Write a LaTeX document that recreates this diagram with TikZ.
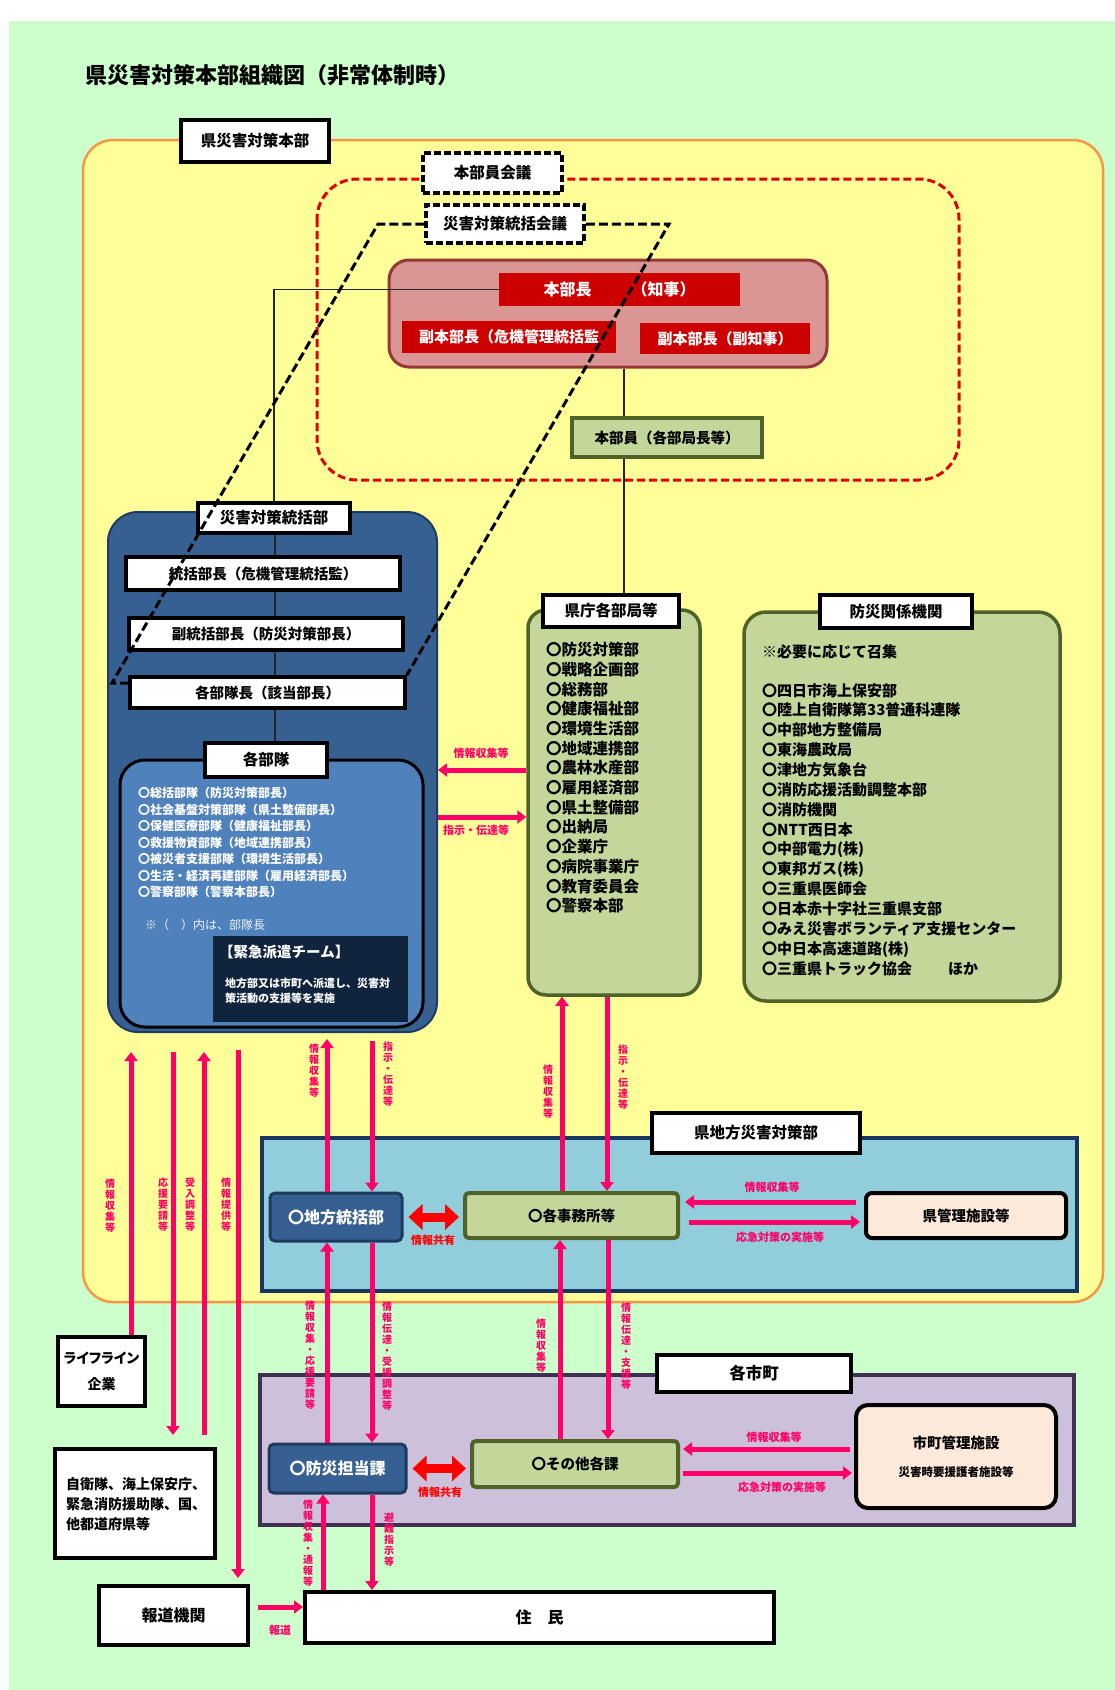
\documentclass[tikz,border=0pt]{standalone}
\usepackage{fontspec}
\setmainfont{Noto Sans CJK JP}
\usetikzlibrary{arrows.meta,calc}
\makeatletter
\newcommand\tate[1]{\vbox{\baselineskip=1.1em\lineskiplimit=-\maxdimen\lineskip=0pt\@tfor\tt@ch:=#1\do{\hbox to 1em{\hss\tt@ch\hss}}}}
\makeatother
\newcommand\fsz[2]{\fontsize{#1}{#2}\selectfont}
\definecolor{bg}{HTML}{CCFFCC}
\definecolor{yel}{HTML}{FFFF99}
\definecolor{orn}{HTML}{F79646}
\definecolor{rdash}{HTML}{E00000}
\definecolor{pinkf}{HTML}{D99694}
\definecolor{pinkd}{HTML}{953735}
\definecolor{redr}{HTML}{CC0000}
\definecolor{dblue}{HTML}{376092}
\definecolor{dblued}{HTML}{1F3A60}
\definecolor{lblue}{HTML}{4F81BD}
\definecolor{navy}{HTML}{10243E}
\definecolor{gfill}{HTML}{C4D79B}
\definecolor{gdraw}{HTML}{4F6228}
\definecolor{cyanf}{HTML}{92CDDC}
\definecolor{cyand}{HTML}{17375E}
\definecolor{purf}{HTML}{CCC0DA}
\definecolor{purd}{HTML}{3F3151}
\definecolor{peach}{HTML}{FDE9D9}
\definecolor{pk}{HTML}{FF0066}
\definecolor{rd}{HTML}{FF0000}
\begin{document}
\begin{tikzpicture}[x=1pt,y=-1pt,
  every node/.style={inner sep=0pt},
  sz/.style 2 args={minimum width=#1pt, minimum height=#2pt},
  lbl/.style={fill=white, draw=black, line width=3.5pt, font=\fsz{15.5}{18}\bfseries},
  lbl2/.style={lbl, font=\fsz{14.5}{17}\bfseries},
  dlbl/.style={lbl, dash pattern=on 7pt off 3pt},
  redbox/.style={fill=redr, text=white, font=\fsz{15}{18}\bfseries},
  bluebox/.style={fill=dblue, draw=dblued, line width=3pt, rounded corners=5pt, text=white, font=\fsz{16}{19}\bfseries},
  gbox/.style={fill=gfill, draw=gdraw, line width=4pt},
  pbox/.style={fill=peach, draw=black, line width=4pt, rounded corners=6pt, font=\fsz{14.5}{17}\bfseries},
  pa/.style={draw=pk, line width=5pt, -{Triangle[length=9pt,width=13pt]}},
  da/.style={draw=rd, line width=9pt, {Triangle[length=14pt,width=25pt]}-{Triangle[length=14pt,width=25pt]}, shorten <=5pt, shorten >=4pt},
  pl/.style={text=pk, font=\fsz{11}{13}\bfseries},
  vl/.style={text=pk, font=\fsz{10}{11}\bfseries},
  conn/.style={draw=black!85, line width=1.5pt},
  pdash/.style={draw=black, line width=3pt, dash pattern=on 9pt off 4pt}
]
\fill[white] (0,0) rectangle (1115,1690);
\useasboundingbox (0,0) rectangle (1115,1690);
\fill[bg] (9,21) rectangle (1115,1690);

\node[anchor=west, font=\fsz{22}{25}\bfseries] (title) at (85,75) {県災害対策本部組織図（非常体制時）};

% outer yellow
\node[fill=yel, draw=orn, line width=2.5pt, rounded corners=30pt, sz={1020}{1162}] (outer) at (593,721) {};
\node[lbl, sz={148}{42}] (hq) at (255,141) {県災害対策本部};

% red dashed
\draw[rdash, line width=3pt, dash pattern=on 8pt off 4pt, rounded corners=40pt] (317,179) rectangle (959,480);
\node[dlbl, sz={139}{40}] (kaigi) at (492.5,173) {本部員会議};
\node[dlbl, sz={158}{38}] (togi) at (505,224) {災害対策統括会議};

% honbu
\node[fill=pinkf, draw=pinkd, line width=3pt, rounded corners=20pt, sz={438}{107}] (honbu) at (608,313.5) {};
\node[redbox, font=\fsz{16}{19}\bfseries, sz={241}{33}] (chiji) at (619.5,289.5) {本部長\hspace{40pt}（知事）};
\node[redbox, sz={214}{32}] (fuku1) at (509,337) {副本部長（危機管理統括監};
\node[redbox, sz={170}{31}] (fuku2) at (725,338.5) {副本部長（副知事）};
\node[gbox, font=\fsz{14.5}{17}\bfseries, sz={190}{39}] (honbuin) at (667,437.5) {本部員（各部局長等）};

% sobu
\node[fill=dblue, draw=dblued, line width=2pt, rounded corners=30pt, sz={329}{520}] (sobu) at (272.5,772) {};
\node[fill=lblue, draw=black, line width=3pt, rounded corners=25pt, sz={303}{267}] (butaiin) at (271.5,893.5) {};
\node[lbl, sz={152}{30}] (sotokatsu) at (274,518) {災害対策統括部};
\node[lbl2, sz={274}{33}] (bucho) at (263,573.5) {統括部長（危機管理統括監）};
\node[lbl2, sz={274}{32}] (fbucho) at (266,634) {副統括部長（防災対策部長）};
\node[lbl2, sz={275}{31}] (kbc) at (267.5,692.5) {各部隊長（該当部長）};
\node[lbl, sz={122}{34}] (butai) at (266,760) {各部隊};
\node[anchor=north west, align=left, text=white, font=\fsz{12}{16.5}\bfseries] (butailist) at (138,787) {〇総括部隊（防災対策部長）\\〇社会基盤対策部隊（県土整備部長）\\〇保健医療部隊（健康福祉部長）\\〇救援物資部隊（地域連携部長）\\〇被災者支援部隊（環境生活部長）\\〇生活・経済再建部隊（雇用経済部長）\\〇警察部隊（警察本部長）};
\node[anchor=west, text=white!90!lblue, font=\fsz{12}{14}] (note) at (145,925) {※（　）内は、部隊長};
\node[fill=navy, sz={195}{86}] (kinkyu) at (310.5,979) {};
\node[anchor=west, text=white, font=\fsz{14.5}{17}\bfseries] (kt) at (219,952) {【緊急派遣チーム】};
\node[anchor=north west, align=left, text=white, font=\fsz{11}{15}\bfseries] (kb) at (225,978) {地方部又は市町へ派遣し、災害対\\策活動の支援等を実施};

% connectors in the chain
\coordinate (xa) at (624,0);
\coordinate (xb) at (275,0);
\draw[conn] (honbu.south -| xa) -- (honbuin.north -| xa);
\draw[conn] (chiji.west) -- (chiji.west -| sotokatsu.north) -- (sotokatsu.north);
\draw[conn] (sotokatsu.south -| xb) -- (bucho.north -| xb);
\draw[conn] (bucho.south -| xb) -- (fbucho.north -| xb);
\draw[conn] (fbucho.south -| xb) -- (kbc.north -| xb);
\draw[conn] (kbc.south -| xb) -- (butai.north -| xb);

% kencho
\node[gbox, line width=3.5pt, rounded corners=18pt, sz={172}{385}] (kencho) at (614,802.5) {};
\node[lbl, sz={136}{32}] (kencholbl) at (611,611) {県庁各部局等};
\draw[conn] (honbuin.south -| xa) -- (kencholbl.north -| xa);
\node[anchor=north west, align=left, font=\fsz{15.5}{19.7}\bfseries] (kenlist) at (546,642) {〇防災対策部\\〇戦略企画部\\〇総務部\\〇健康福祉部\\〇環境生活部\\〇地域連携部\\〇農林水産部\\〇雇用経済部\\〇県土整備部\\〇出納局\\〇企業庁\\〇病院事業庁\\〇教育委員会\\〇警察本部};

% kankei
\node[gbox, line width=3.5pt, rounded corners=22pt, sz={316}{389}] (kankei) at (902,806.5) {};
\node[lbl, sz={152}{33}] (kankeilbl) at (896,611.5) {防災関係機関};
\node[anchor=west, font=\fsz{15}{18}\bfseries] (shoshu) at (762,652) {※必要に応じて召集};
\node[anchor=north west, align=left, font=\fsz{15}{19.86}\bfseries] (kanlist) at (762,683) {〇四日市海上保安部\\〇陸上自衛隊第33普通科連隊\\〇中部地方整備局\\〇東海農政局\\〇津地方気象台\\〇消防応援活動調整本部\\〇消防機関\\〇NTT西日本\\〇中部電力(株)\\〇東邦ガス(株)\\〇三重県医師会\\〇日本赤十字社三重県支部\\〇みえ災害ボランティア支援センター\\〇中日本高速道路(株)\\〇三重県トラック協会\hspace{36pt}ほか};

% arrows butai <-> kencho
\coordinate (a1) at ($(sobu.east)+(0,-2)$);
\coordinate (a2) at ($(sobu.east)+(0,45)$);
\draw[pa] (kencho.west |- a1) -- (a1);
\draw[pa] (a2) -- (kencho.west |- a2);
\node[pl] (l1) at (481,753) {情報収集等};
\node[pl] (l2) at (476,830) {指示・伝達等};

% chiho region
\node[fill=cyanf, draw=cyand, line width=4pt, sz={815}{153}] (chihoreg) at (669.5,1214.5) {};
\node[lbl, sz={208}{40}] (chiholbl) at (756,1133) {県地方災害対策部};
\node[bluebox, sz={132}{48}] (chiho) at (336,1217) {〇地方統括部};
\node[gbox, rounded corners=4pt, font=\fsz{14.5}{17}\bfseries, sz={213}{45}] (jimusho) at (571.5,1215.5) {〇各事務所等};
\node[pbox, sz={200}{45}] (kanri) at (966,1215.5) {県管理施設等};
\draw[da] (chiho.east) -- (jimusho.west |- chiho.east);
\node[text=rd, font=\fsz{11}{13}\bfseries] (kyoyu1) at (433,1240) {情報共有};
\coordinate (y1) at (0,1202);
\coordinate (y2) at (0,1222);
\draw[pa, shorten <=8pt, shorten >=5pt] (kanri.west |- y1) -- (jimusho.east |- y1);
\draw[pa, shorten <=9pt, shorten >=4pt] (jimusho.east |- y2) -- (kanri.west |- y2);
\node[pl] (l3) at (772,1187) {情報収集等};
\node[pl] (l4) at (780,1237) {応急対策の実施等};

% shicho region
\node[fill=purf, draw=purd, line width=4pt, sz={814}{150}] (shichoreg) at (667,1450) {};
\node[lbl, font=\fsz{16.5}{19}\bfseries, sz={194}{37}] (shicholbl) at (754,1373.5) {各市町};
\node[bluebox, sz={137}{49}] (bousai) at (337.5,1468.5) {〇防災担当課};
\node[gbox, rounded corners=4pt, font=\fsz{14.5}{17}\bfseries, sz={206}{46}] (sonota) at (575,1464) {〇その他各課};
\node[pbox, rounded corners=12pt, sz={200}{103}] (shisetsu) at (956,1456.5) {};
\node[font=\fsz{14.5}{17}\bfseries] (st1) at (956,1443) {市町管理施設};
\node[font=\fsz{11.5}{14}\bfseries] (st2) at (956,1472) {災害時要援護者施設等};
\draw[da] (bousai.east) -- (sonota.west |- bousai.east);
\node[text=rd, font=\fsz{11}{13}\bfseries] (kyoyu2) at (440,1492) {情報共有};
\coordinate (y3) at (0,1449);
\coordinate (y4) at (0,1473);
\draw[pa, shorten <=4pt, shorten >=3pt] (shisetsu.west |- y3) -- (sonota.east |- y3);
\draw[pa, shorten <=3pt, shorten >=2pt] (sonota.east |- y4) -- (shisetsu.west |- y4);
\node[pl] (l5) at (774,1437) {情報収集等};
\node[pl] (l6) at (782,1487) {応急対策の実施等};

% bottom boxes
\node[lbl, line width=4pt, font=\fsz{16}{19}\bfseries, sz={469}{51}] (juumin) at (539.5,1617.5) {住　民};
\node[lbl, line width=4pt, font=\fsz{16}{19}\bfseries, sz={149}{59}] (houdo) at (173.5,1615.5) {報道機関};
\node[lbl, line width=4pt, align=center, font=\fsz{14}{26}\bfseries, sz={87}{69}] (life) at (101.5,1371.5) {{\addfontfeature{RawFeature=+palt}ライフライン}\\企業};
\node[lbl, line width=4pt, sz={160}{109}] (jieitai) at (135,1503.5) {};
\node[anchor=north west, align=left, font=\fsz{14}{20}\bfseries] (jt) at (66,1477) {自衛隊、海上保安庁、\\緊急消防援助隊、国、\\他都道府県等};
\coordinate (y5) at (0,1607);
\draw[pa, shorten <=8pt] (houdo.east |- y5) -- (juumin.west |- y5);
\node[pl] (l7) at (280,1630) {報道};

% vertical arrows centre
\coordinate (vx1) at (327,0);
\coordinate (vx2) at (372,0);
\coordinate (vx3) at (562,0);
\coordinate (vx4) at (607,0);
\coordinate (vx5) at (560,0);
\coordinate (vx6) at (608,0);
\coordinate (vx7) at (323,0);
\draw[pa, shorten >=6pt] (chiho.north -| vx1) -- (sobu.south -| vx1);
\draw[pa, shorten <=8pt] (sobu.south -| vx2) -- (chiho.north -| vx2);
\draw[pa] (jimusho.north -| vx3) -- (kencho.south -| vx3);
\draw[pa] (kencho.south -| vx4) -- (jimusho.north -| vx4);
\draw[pa] (bousai.north -| vx1) -- (chiho.south -| vx1);
\draw[pa] (chiho.south -| vx2) -- (bousai.north -| vx2);
\draw[pa] (sonota.north -| vx5) -- (jimusho.south -| vx5);
\draw[pa] (jimusho.south -| vx6) -- (sonota.north -| vx6);
\draw[pa] (juumin.north -| vx7) -- (bousai.south -| vx7);
\draw[pa] (bousai.south -| vx2) -- (juumin.north -| vx2);

\node[vl] (v1) at (314,1071) {\tate{情報収集等}};
\node[vl] (v2) at (388,1074) {\tate{指示・伝達等}};
\node[vl] (v3) at (548,1092) {\tate{情報収集等}};
\node[vl] (v4) at (623,1077) {\tate{指示・伝達等}};
\node[vl] (v5) at (310,1355) {\tate{情報収集・応援要請等}};
\node[vl] (v6) at (387,1356) {\tate{情報伝達・受援調整等}};
\node[vl] (v7) at (541,1346) {\tate{情報収集等}};
\node[vl] (v8) at (626,1346) {\tate{情報伝達・支援等}};
\node[vl] (v9) at (308,1543) {\tate{情報収集・通報等}};
\node[vl] (v10) at (389,1540) {\tate{避難指示等}};

% left vertical arrows
\coordinate (t1) at (131,1052);
\coordinate (t2) at (173,1052);
\coordinate (t3) at (204,1052);
\coordinate (t4) at (238,1050);
\draw[pa] (life.north -| t1) -- (t1);
\draw[pa, shorten >=12pt] (t2) -- (jieitai.north -| t2);
\draw[pa, shorten <=12pt] (jieitai.north -| t3) -- (t3);
\draw[pa, shorten >=6pt] (t4) -- (houdo.north -| t4);
\node[vl] (v11) at (110,1206) {\tate{情報収集等}};
\node[vl] (v12) at (163,1205) {\tate{応援要請等}};
\node[vl] (v13) at (190,1205) {\tate{受入調整等}};
\node[vl] (v14) at (226,1205) {\tate{情報提供等}};

% dashed parallelogram (統括会議)
\coordinate (pA) at (378,224);
\coordinate (pB) at (669,224);
\coordinate (pC) at (112,683);
\draw[pdash] (togi.west) -- (pA) -- (pC) -- (kbc.west |- pC);
\draw[pdash] (togi.east) -- (pB) -- (kbc.north east);
\end{tikzpicture}
\end{document}
